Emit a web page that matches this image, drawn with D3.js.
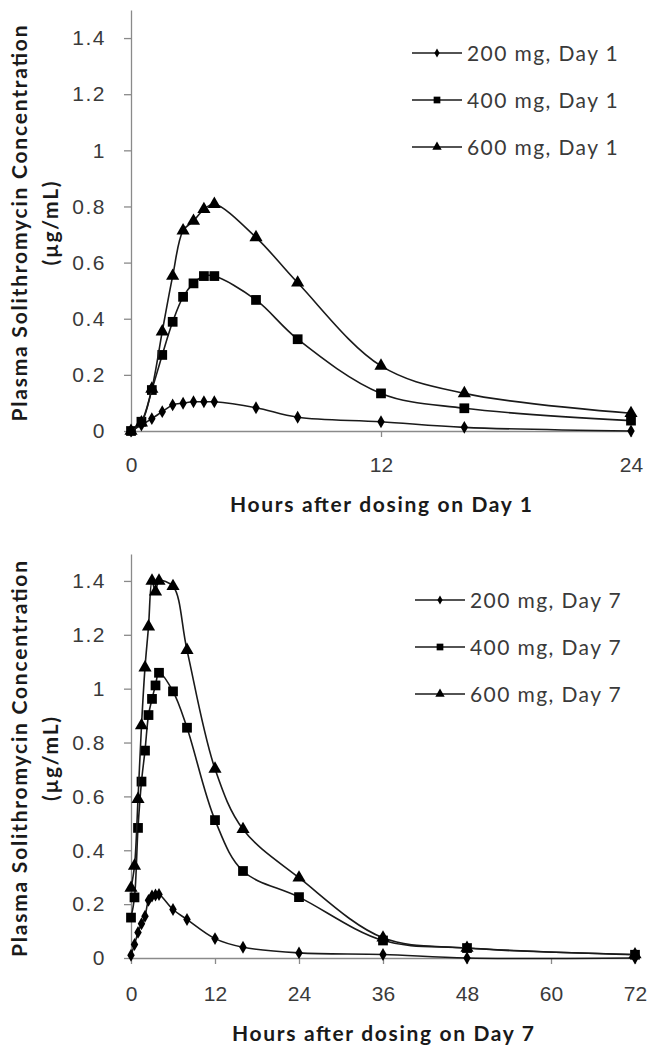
<!DOCTYPE html>
<html>
<head>
<meta charset="utf-8">
<script src="https://cdn.jsdelivr.net/npm/d3@7"></script>
<style>
  html, body { margin: 0; padding: 0; background: #fff; }
  svg { display: block; font-family: Lato, "Open Sans", sans-serif; }
</style>
</head>
<body>
<svg id="chart" width="647" height="1047"></svg>
<script>
// Day 1 sampling times (h) and concentrations (ug/mL)
const day1Hours = [0, 0.5, 1, 1.5, 2, 2.5, 3, 3.5, 4, 6, 8, 12, 16, 24];
const day1Dose200 = [0, 0.021, 0.044, 0.069, 0.093, 0.099, 0.104, 0.104, 0.104, 0.083, 0.049, 0.033, 0.013, 0];
const day1Dose400 = [0, 0.033, 0.146, 0.271, 0.389, 0.478, 0.526, 0.552, 0.552, 0.467, 0.327, 0.134, 0.081, 0.037];
const day1Dose600 = [0, 0.03, 0.15, 0.354, 0.552, 0.714, 0.748, 0.79, 0.808, 0.69, 0.528, 0.232, 0.134, 0.063];

// Day 7
const day7Hours = [0, 0.5, 1, 1.5, 2, 2.5, 3, 3.5, 4, 6, 8, 12, 16, 24, 36, 48, 72];
const day7Dose200 = [0.01, 0.05, 0.095, 0.127, 0.155, 0.214, 0.23, 0.234, 0.236, 0.18, 0.143, 0.072, 0.04, 0.019, 0.013, 0, 0];
const day7Dose400 = [0.15, 0.225, 0.483, 0.655, 0.77, 0.902, 0.962, 1.012, 1.059, 0.99, 0.855, 0.512, 0.323, 0.226, 0.065, 0.037, 0.012];
const day7Dose600 = [0.26, 0.342, 0.59, 0.863, 1.078, 1.23, 1.4, 1.36, 1.4, 1.38, 1.143, 0.702, 0.478, 0.298, 0.075, 0.037, 0.013];

const doseLabels = ["200 mg", "400 mg", "600 mg"];
const yTicks = [0, 0.2, 0.4, 0.6, 0.8, 1, 1.2, 1.4];
const day1XTicks = [0, 12, 24];
const day7XTicks = [0, 12, 24, 36, 48, 60, 72];

const symbols = [d3.symbolDiamond, d3.symbolSquare, d3.symbolTriangle];
const markSize = [48, 95, 75];
const legendSize = [24, 45, 38];

const svg = d3.select("#chart");

function panel(opts) {
  const g = svg.append("g");
  const x = d3.scaleLinear().domain([0, opts.xMax]).range([131, opts.xRight]);
  const y = d3.scaleLinear().domain([0, 1.5]).range([opts.yBottom, opts.yTop]);

  // y axis
  const ya = g.append("g")
    .attr("transform", `translate(${x(0)},0)`)
    .call(d3.axisLeft(y).tickValues(yTicks).tickSize(7).tickSizeOuter(0).tickPadding(18)
      .tickFormat(d => String(+d.toFixed(1))));
  ya.select(".domain").attr("stroke", "#8a8a8a").attr("stroke-width", 1.3);
  ya.selectAll(".tick line").attr("stroke", "#8a8a8a").attr("stroke-width", 1.3);
  ya.selectAll(".tick text").attr("font-size", 21).attr("letter-spacing", 1.5).attr("fill", "#3a3a3a");

  // x axis
  const xa = g.append("g")
    .attr("transform", `translate(0,${opts.yBottom})`)
    .call(d3.axisBottom(x).tickValues(opts.xTicks).tickSize(6).tickSizeOuter(0).tickPadding(opts.xPad));
  xa.select(".domain").attr("stroke", "#8a8a8a").attr("stroke-width", 1.3);
  xa.selectAll(".tick line").attr("stroke", "#8a8a8a").attr("stroke-width", 1.3);
  xa.selectAll(".tick text").attr("font-size", 21).attr("fill", "#3a3a3a");

  // titles
  const yMid = (opts.yBottom + opts.yTop) / 2 + 3;
  g.append("text")
    .attr("transform", `translate(27,${yMid}) rotate(-90)`)
    .attr("text-anchor", "middle")
    .attr("font-size", 21).attr("font-weight", 700).attr("fill", "#1a1a1a")
    .attr("textLength", 396).attr("lengthAdjust", "spacing")
    .text("Plasma Solithromycin Concentration");
  g.append("text")
    .attr("transform", `translate(58,${yMid}) rotate(-90)`)
    .attr("text-anchor", "middle")
    .attr("font-size", 21).attr("font-weight", 700).attr("fill", "#1a1a1a")
    .attr("textLength", 84).attr("lengthAdjust", "spacing")
    .text("(µg/mL)");
  g.append("text")
    .attr("x", (x(0) + x(opts.xMax)) / 2)
    .attr("y", opts.titleY)
    .attr("text-anchor", "middle")
    .attr("font-size", 21).attr("font-weight", 700).attr("fill", "#1a1a1a")
    .attr("textLength", 302).attr("lengthAdjust", "spacing")
    .text(opts.xTitle);

  const line = d3.line()
    .x(d => x(d[0])).y(d => y(d[1]))
    .curve(d3.curveCatmullRom.alpha(0.5));

  opts.series.forEach((vals, i) => {
    const pts = opts.hours.map((h, j) => [h, vals[j]]);
    g.append("path")
      .attr("d", line(pts))
      .attr("fill", "none")
      .attr("stroke", "#1a1a1a")
      .attr("stroke-width", 1.6);
    g.selectAll(null).data(pts).join("path")
      .attr("transform", d => `translate(${x(d[0])},${y(d[1])})`)
      .attr("d", d3.symbol(symbols[i], markSize[i]))
      .attr("fill", "#000");
  });

  // legend
  const lg = g.append("g");
  doseLabels.forEach((lab, i) => {
    const ly = opts.legendY + i * 47;
    lg.append("line")
      .attr("x1", opts.legendX).attr("x2", opts.legendX + 50)
      .attr("y1", ly).attr("y2", ly)
      .attr("stroke", "#1a1a1a").attr("stroke-width", 1.6);
    lg.append("path")
      .attr("transform", `translate(${opts.legendX + 25},${ly})`)
      .attr("d", d3.symbol(symbols[i], legendSize[i]))
      .attr("fill", "#000");
    lg.append("text")
      .attr("x", opts.legendX + 55)
      .attr("y", ly)
      .attr("dy", "0.36em")
      .attr("font-size", 21)
      .attr("letter-spacing", 1.4)
      .attr("fill", "#3a3a3a")
      .text(`${lab}, ${opts.dayLabel}`);
  });
}

panel({
  hours: day1Hours,
  series: [day1Dose200, day1Dose400, day1Dose600],
  xMax: 24, xRight: 631, xTicks: day1XTicks, xPad: 20,
  yTop: 10, yBottom: 431,
  titleY: 512,
  xTitle: "Hours after dosing on Day 1",
  dayLabel: "Day 1",
  legendX: 412, legendY: 53
});

panel({
  hours: day7Hours,
  series: [day7Dose200, day7Dose400, day7Dose600],
  xMax: 72, xRight: 635, xTicks: day7XTicks, xPad: 22,
  yTop: 554, yBottom: 958,
  titleY: 1041,
  xTitle: "Hours after dosing on Day 7",
  dayLabel: "Day 7",
  legendX: 415, legendY: 600
});
</script>
</body>
</html>
